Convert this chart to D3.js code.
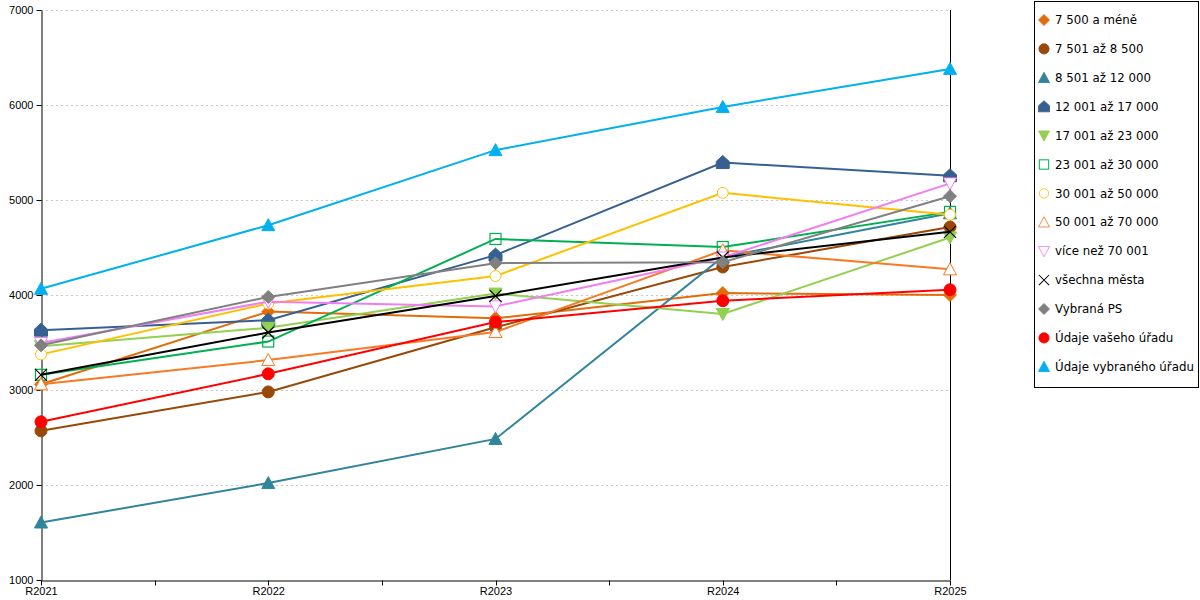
<!DOCTYPE html>
<html>
<head>
<meta charset="utf-8">
<script src="https://cdn.jsdelivr.net/npm/d3@7"></script>
<style>
  body { margin: 0; background: #fff; }
  svg { font-family: "DejaVu Sans", sans-serif; }
  .tick text { font-size: 11px; fill: #000; font-stretch: condensed; }
</style>
</head>
<body>
<div id="chart"></div>
<script>
// Data
var years = ["R2021", "R2022", "R2023", "R2024", "R2025"];
var seriesNames = ["7 500 a méně", "7 501 až 8 500", "8 501 až 12 000", "12 001 až 17 000",
  "17 001 až 23 000", "23 001 až 30 000", "30 001 až 50 000", "50 001 až 70 000",
  "více než 70 001", "všechna města", "Vybraná PS", "Údaje vašeho úřadu", "Údaje vybraného úřadu"];
var s7500 = [3060, 3825, 3755, 4020, 4000];
var s8500 = [2570, 2980, 3660, 4295, 4715];
var s12000 = [1605, 2020, 2485, 4400, 4860];
var s17000 = [3630, 3735, 4420, 5395, 5255];
var s23000 = [3460, 3655, 4015, 3800, 4605];
var s30000 = [3160, 3510, 4590, 4505, 4875];
var s50000 = [3375, 3910, 4200, 5075, 4845];
var s70000 = [3060, 3315, 3610, 4470, 4270];
var sOver = [3495, 3930, 3880, 4395, 5175];
var sAll = [3160, 3605, 3990, 4395, 4665];
var sPS = [3470, 3980, 4335, 4345, 5040];
var sYours = [2665, 3170, 3715, 3940, 4055];
var sSelected = [4065, 4735, 5525, 5980, 6380];
var yTicks = [1000, 2000, 3000, 4000, 5000, 6000, 7000];

var allValues = [s7500, s8500, s12000, s17000, s23000, s30000, s50000, s70000, sOver, sAll, sPS, sYours, sSelected];
// colour and marker style per series
var colors = ["#E36C0A", "#984807", "#31849B", "#376092", "#92D050", "#00B050", "#FFC000",
  "#F77A24", "#F07EF0", "#000000", "#808080", "#FF0000", "#00B0F0"];
var markers = ["diamond", "circle", "triangle", "house", "down", "square", "circle", "triangle",
  "down", "cross", "diamond", "circle", "triangle"];
var filled = [true, true, true, true, true, false, false, false, false, false, true, true, true];

// Chart setup
var margin = { left: 41, top: 10 };
var plotW = 909, plotH = 570;
var svg = d3.select('#chart').append('svg')
  .attr('width', 1200).attr('height', 600);
var chart = svg.append('g')
  .attr('transform', 'translate(' + margin.left + ',' + margin.top + ')');

var xScale = d3.scalePoint().domain(years).range([0, plotW]);
var yScale = d3.scaleLinear().domain([1000, 7000]).range([plotH, 0]);

// Grid
chart.selectAll('.grid')
  .data(yTicks.slice(1))
  .enter().append('line')
  .attr('x1', 0).attr('x2', plotW)
  .attr('y1', function(d) { return Math.round(yScale(d)) + 0.5; })
  .attr('y2', function(d) { return Math.round(yScale(d)) + 0.5; })
  .attr('stroke', '#c8c8c8')
  .attr('stroke-dasharray', '2,3');

// Right border line
chart.append('line')
  .attr('x1', plotW + 0.5).attr('x2', plotW + 0.5)
  .attr('y1', 0).attr('y2', plotH)
  .attr('stroke', '#000');

// Y-axis
var yAxis = d3.axisLeft(yScale).tickValues(yTicks).tickSize(5).tickSizeOuter(0)
  .tickFormat(d3.format('d'));
chart.append('g').attr('transform', 'translate(0.5,0)').call(yAxis)
  .call(function(g) { g.selectAll('.tick text').attr('x', -8); });

// X-axis: labels at categories, ticks between them
var xAxisG = chart.append('g').attr('transform', 'translate(0,' + (plotH + 0.5) + ')');
xAxisG.call(d3.axisBottom(xScale).tickSize(0).tickPadding(5));
xAxisG.select('.domain').attr('stroke', '#000');
var step = xScale.step() / 2;
var halfTicks = d3.range(0, plotW + 1, step);
xAxisG.selectAll('.minor')
  .data(halfTicks)
  .enter().append('line')
  .attr('x1', function(d) { return Math.round(d) + 0.5; })
  .attr('x2', function(d) { return Math.round(d) + 0.5; })
  .attr('y1', 0).attr('y2', 5)
  .attr('stroke', '#000');
xAxisG.selectAll('.tick text').attr('dy', '0.9em');

// Marker drawing
function drawMarker(g, type, color, fill, cx, cy) {
  var f = fill ? color : '#fff';
  if (type === 'circle') {
    g.append('circle').attr('cx', cx).attr('cy', cy).attr('r', fill ? 6 : 5.5)
      .attr('fill', f).attr('stroke', color).attr('stroke-width', 1);
  } else if (type === 'diamond') {
    g.append('path').attr('d', 'M' + cx + ',' + (cy - 6.5) + 'L' + (cx + 6.5) + ',' + cy +
      'L' + cx + ',' + (cy + 6.5) + 'L' + (cx - 6.5) + ',' + cy + 'Z')
      .attr('fill', f).attr('stroke', color);
  } else if (type === 'triangle') {
    g.append('path').attr('d', 'M' + cx + ',' + (cy - 6.5) + 'L' + (cx + 6.5) + ',' + (cy + 5.5) +
      'L' + (cx - 6.5) + ',' + (cy + 5.5) + 'Z')
      .attr('fill', f).attr('stroke', color);
  } else if (type === 'down') {
    g.append('path').attr('d', 'M' + (cx - 6.5) + ',' + (cy - 5.5) + 'L' + (cx + 6.5) + ',' + (cy - 5.5) +
      'L' + cx + ',' + (cy + 6.5) + 'Z')
      .attr('fill', f).attr('stroke', color);
  } else if (type === 'house') {
    g.append('path').attr('d', 'M' + cx + ',' + (cy - 7) + 'L' + (cx + 6.5) + ',' + (cy - 1) +
      'L' + (cx + 6.5) + ',' + (cy + 6) + 'L' + (cx - 6.5) + ',' + (cy + 6) +
      'L' + (cx - 6.5) + ',' + (cy - 1) + 'Z')
      .attr('fill', f).attr('stroke', color);
  } else if (type === 'square') {
    g.append('rect').attr('x', cx - 5.5).attr('y', cy - 5.5).attr('width', 11).attr('height', 11)
      .attr('fill', 'none').attr('stroke', color).attr('stroke-width', 1.2);
  } else if (type === 'cross') {
    g.append('path').attr('d', 'M' + (cx - 6) + ',' + (cy - 6) + 'L' + (cx + 6) + ',' + (cy + 6) +
      'M' + (cx + 6) + ',' + (cy - 6) + 'L' + (cx - 6) + ',' + (cy + 6))
      .attr('fill', 'none').attr('stroke', color).attr('stroke-width', 1.2);
  }
}

// Lines and markers
var line = d3.line()
  .x(function(d, i) { return xScale(years[i]); })
  .y(function(d) { return yScale(d); });

allValues.forEach(function(vals, si) {
  var g = chart.append('g');
  g.append('path')
    .datum(vals)
    .attr('d', line)
    .attr('fill', 'none')
    .attr('stroke', colors[si])
    .attr('stroke-width', 2);
  vals.forEach(function(v, i) {
    drawMarker(g, markers[si], colors[si], filled[si], xScale(years[i]), yScale(v));
  });
});

// Legend
var legend = svg.append('g');
legend.append('rect')
  .attr('x', 1034.5).attr('y', 1.5).attr('width', 164).attr('height', 386)
  .attr('fill', '#fff').attr('stroke', '#000');
seriesNames.forEach(function(name, i) {
  var ly = 20 + i * 28.9;
  var lg = legend.append('g');
  var t = markers[i];
  // slightly smaller legend markers
  lg.attr('transform', 'translate(1044,' + ly + ') scale(0.85)');
  drawMarker(lg, t, colors[i], filled[i], 0, 0);
  legend.append('text')
    .attr('x', 1055).attr('y', ly)
    .attr('dy', '0.35em')
    .style('font-size', '11.8px')
    .text(name);
});
</script>
</body>
</html>
